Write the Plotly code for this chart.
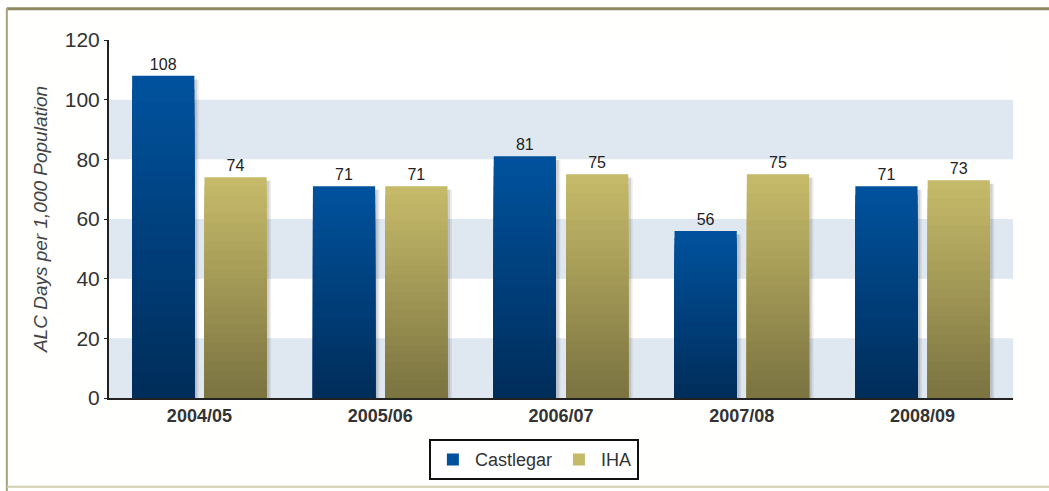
import plotly.graph_objects as go

categories = ["2004/05", "2005/06", "2006/07", "2007/08", "2008/09"]
castlegar = [108, 71, 81, 56, 71]
iha = [74, 71, 75, 75, 73]
series_names = ["Castlegar", "IHA"]
y_title = "ALC Days per 1,000 Population"

FONT = "Arial, Liberation Sans, sans-serif"
N_STEPS = 24
BAR_W = 0.344          # bar width in category units
BAR_OFFSETS = {"Castlegar": -0.372, "IHA": 0.028}
SHADOW_SHIFT = 0.024

def lerp(c1, c2, t):
    return "rgb(%d,%d,%d)" % tuple(round(a + (b - a) * t) for a, b in zip(c1, c2))

styles = {
    "Castlegar": ((0, 45, 90), (0, 82, 158)),   # bottom, top
    "IHA": ((122, 114, 64), (199, 188, 106)),
}

fig = go.Figure()
# soft drop shadows
for name, vals in zip(series_names, [castlegar, iha]):
    for sh, alpha in ((SHADOW_SHIFT, 0.10), (SHADOW_SHIFT * 0.6, 0.14)):
        fig.add_trace(go.Bar(
            x=categories, y=[v - 1.2 for v in vals],
            width=BAR_W, offset=BAR_OFFSETS[name] + sh,
            marker=dict(color="rgba(60,60,60,%.2f)" % alpha, line=dict(width=0)),
            showlegend=False, hoverinfo="skip",
        ))

for name, vals in zip(series_names, [castlegar, iha]):
    bottom, top = styles[name]
    for k in range(N_STEPS, 0, -1):
        frac = k / N_STEPS
        fig.add_trace(go.Bar(
            x=categories,
            y=[v * frac for v in vals],
            width=BAR_W, offset=BAR_OFFSETS[name],
            name=name,
            legendgroup=name,
            showlegend=(k == N_STEPS),
            marker=dict(color=lerp(bottom, top, (k - 0.5) / N_STEPS), line=dict(width=0)),
            text=[str(v) for v in vals] if k == N_STEPS else None,
            textposition="outside" if k == N_STEPS else None,
            textfont=dict(family=FONT, size=16, color="#222"),
            cliponaxis=False,
            hoverinfo="skip" if k != N_STEPS else None,
        ))

shapes = []
for lo in (0, 40, 80):
    shapes.append(dict(type="rect", xref="paper", yref="y", x0=0, x1=1, y0=lo, y1=lo + 20,
                       fillcolor="#dfe7f0", line=dict(width=0), layer="below"))
# outer frame
shapes.append(dict(type="line", xref="paper", yref="paper", x0=-0.113, x1=1.1, y0=1.087, y1=1.087,
                   line=dict(color="#8e8860", width=3)))
shapes.append(dict(type="line", xref="paper", yref="paper", x0=-0.113, x1=-0.113, y0=1.089, y1=-0.26,
                   line=dict(color="#a8a27c", width=2)))
shapes.append(dict(type="line", xref="paper", yref="paper", x0=-0.113, x1=1.1, y0=-0.248, y1=-0.248,
                   line=dict(color="#d2cfb0", width=2)))

fig.update_layout(
    width=1049, height=491,
    margin=dict(l=109, r=36, t=40, b=92),
    paper_bgcolor="#fffffe", plot_bgcolor="#ffffff",
    barmode="overlay",
    font=dict(family=FONT, color="#333"),
    shapes=shapes,
    showlegend=True,
    legend=dict(orientation="h", x=0.47, xanchor="center", y=-0.112, yanchor="top",
                bordercolor="#111", borderwidth=2, bgcolor="#ffffff",
                font=dict(family=FONT, size=18, color="#333"),
                itemwidth=34, traceorder="normal"),
    xaxis=dict(showline=True, linecolor="#222", linewidth=2, ticks="",
               tickfont=dict(family=FONT, size=18, color="#333", weight="bold"),
               showgrid=False, zeroline=False),
    yaxis=dict(range=[0, 120], dtick=20, showline=True, linecolor="#222", linewidth=2,
               ticks="outside", ticklen=3, tickcolor="#222",
               tickfont=dict(family=FONT, size=21, color="#333"),
               showgrid=False, zeroline=False,
               title=dict(text=y_title, standoff=12,
                          font=dict(family=FONT, size=19, color="#444", style="italic"))),
)

fig.write_html("out.html", config={"displayModeBar": False},
               post_script="document.body.style.margin='0';document.body.style.padding='0';")
